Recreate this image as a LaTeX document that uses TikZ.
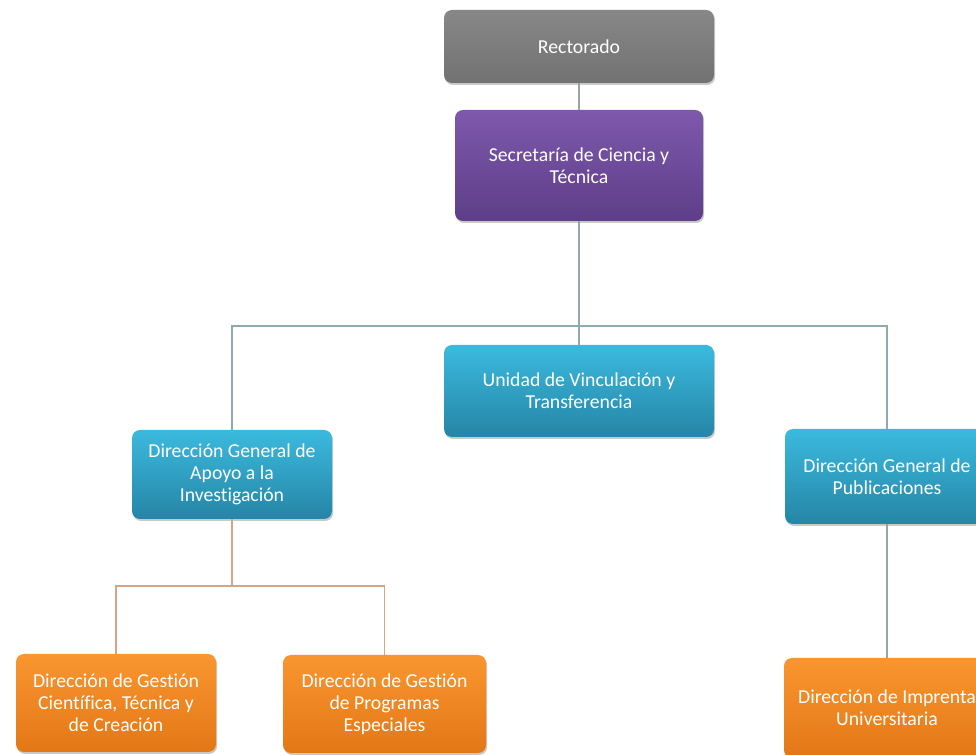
\documentclass[tikz,border=0pt]{standalone}
\usepackage{fontspec}
\setmainfont{Carlito}[RawFeature={-liga;-clig;-calt;-dlig}]
\usetikzlibrary{shadows}
\newcommand{\tisep}{t\kern0pt i}
\definecolor{grayT}{HTML}{878787}
\definecolor{grayB}{HTML}{727272}
\definecolor{purT}{HTML}{7E58AC}
\definecolor{purB}{HTML}{5E3E89}
\definecolor{bluT}{HTML}{3BBADE}
\definecolor{bluB}{HTML}{2585A6}
\definecolor{orT}{HTML}{F9962F}
\definecolor{orB}{HTML}{E37716}
\definecolor{lineBlue}{HTML}{8FA9B3}
\definecolor{lineOr}{HTML}{D6A582}
\definecolor{lineGray}{HTML}{9AA3A6}
\tikzset{
  orgbox/.style={rectangle, rounded corners=6pt, text=white, align=center,
    font=\fontsize{14.8}{16.5}\selectfont, inner sep=0pt,
    drop shadow={shadow xshift=0.8pt, shadow yshift=-1.5pt, opacity=0.35, fill=black!60}},
  graybox/.style={orgbox, top color=grayT, bottom color=grayB},
  purbox/.style={orgbox, top color=purT, bottom color=purB},
  blubox/.style={orgbox, top color=bluT, bottom color=bluB},
  orbox/.style={orgbox, top color=orT, bottom color=orB},
  conn/.style={line width=1.1pt},
}
\begin{document}
\begin{tikzpicture}[x=0.75pt, y=-0.75pt]
\useasboundingbox (0,0) rectangle (976,755);
\fill[white] (0,0) rectangle (976,755);
\clip (0,0) rectangle (976,755);
\coordinate (bar) at (0,326);
\coordinate (bar2) at (0,586);
\node[graybox, minimum width=202.5pt, minimum height=54.75pt] (rect) at (579,46.5) {Rectorado};
\node[purbox, minimum width=186pt, minimum height=83.25pt] (sec) at (579,165.5) {Secretaría de Ciencia y\\Técnica};
\node[blubox, minimum width=202.5pt, minimum height=69pt] (uvt) at (579,391) {Unidad de Vinculación y\\Transferencia};
\node[blubox, minimum width=150pt, minimum height=66.75pt] (dga) at (232,474.5) {Dirección General de\\Apoyo a la\\Inves\tisep gación};
\node[blubox, minimum width=153pt, minimum height=71.25pt] (dgp) at (887,476.5) {Dirección General de\\Publicaciones};
\node[orbox, minimum width=150pt, minimum height=73.5pt] (b1) at (116,703) {Dirección de Ges\tisep ón\\Cient\kern0pt ífica, Técnica y\\de Creación};
\node[orbox, minimum width=152.25pt, minimum height=73.5pt] (b2) at (384.5,704) {Dirección de Ges\tisep ón\\de Programas\\Especiales};
\node[orbox, minimum width=154.5pt, minimum height=75pt] (b3) at (887,708) {Dirección de Imprenta\\Universitaria};
\draw[conn, color=lineGray] (rect.south) -- (sec.north);
\draw[conn, color=lineBlue] (sec.south) -- (uvt.north);
\draw[conn, color=lineBlue] (dga.north) -- (dga.north |- bar) -- (dgp.north |- bar) -- (dgp.north);
\draw[conn, color=lineOr] (dga.south) -- (dga.south |- bar2);
\draw[conn, color=lineOr] (b1.north) -- (b1.north |- bar2) -- (b2.north |- bar2) -- (b2.north);
\draw[conn, color=lineGray] (dgp.south) -- (b3.north);
\end{tikzpicture}
\end{document}
